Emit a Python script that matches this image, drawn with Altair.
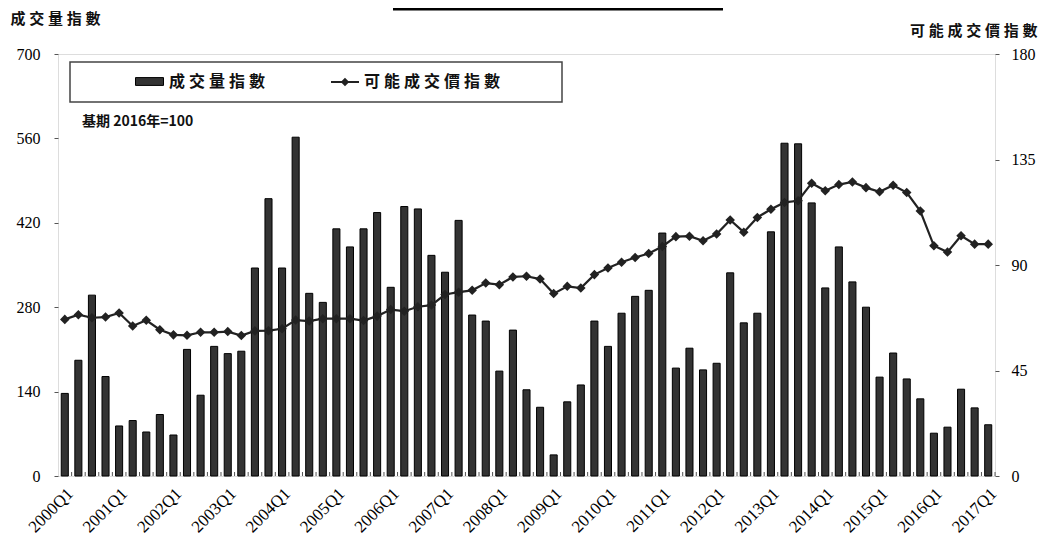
import altair as alt
import pandas as pd

quarters = [f"{y}Q{q}" for y in range(2000, 2018) for q in range(1, 5)][:69]

volume_index = [
    137, 192, 300, 165, 83, 92, 73, 102,
    68, 210, 134, 215, 203, 207, 345, 460,
    345, 562, 303, 288, 410, 380, 410, 437,
    313, 447, 443, 366, 338, 424, 267, 257,
    174, 242, 143, 114, 35, 123, 151, 257,
    215, 270, 298, 308, 403, 179, 212, 176,
    187, 337, 254, 270, 405, 552, 551, 453,
    312, 380, 322, 280, 164, 204, 161, 128,
    71, 81, 144, 113, 85,
]

price_index = [
    66.8, 68.8, 67.5, 67.8, 69.5, 64.0, 66.4, 62.4,
    60.2, 60.0, 61.3, 61.3, 61.6, 59.9, 61.9, 62.0,
    62.8, 66.5, 66.1, 67.1, 67.1, 67.1, 66.3, 68.2,
    71.0, 70.3, 72.2, 72.9, 77.4, 78.4, 79.2, 82.3,
    81.6, 84.9, 85.2, 84.0, 77.8, 80.9, 80.2, 85.9,
    88.7, 91.2, 93.2, 94.9, 97.9, 102.1, 102.3, 100.3,
    103.2, 109.2, 104.0, 110.3, 113.8, 116.7, 117.4, 124.9,
    121.7, 124.3, 125.4, 123.0, 121.2, 124.0, 120.9, 113.0,
    98.2, 95.5, 102.5, 98.9, 98.9,
]

q1_labels = [q for q in quarters if q.endswith("Q1")]
vol_name = "成交量指數"
price_name = "可能成交價指數"
base_text = "基期 2016年=100"

SP = "\u2005"
def spaced(s):
    return SP.join(list(s))

df = pd.DataFrame({
    "quarter": quarters,
    "volume": volume_index,
    "price": price_index,
    "s1": spaced(vol_name),
    "s2": spaced(price_name),
})
one = pd.DataFrame({"k": [0]})

NUM_FONT = "Liberation Serif"
CJK_FONT = "Noto Sans CJK TC"

W, H = 937, 422

xscale = alt.Scale(paddingInner=0.48, paddingOuter=0.24)

x_axis = alt.Axis(
    values=q1_labels, labelAngle=-45, ticks=False, domain=False,
    labelFont=NUM_FONT, labelFontSize=17, labelColor="#000", labelPadding=9,
    title=None, grid=False,
)

bars = alt.Chart(df).mark_bar(stroke="#000", strokeWidth=1).encode(
    x=alt.X("quarter:N", sort=quarters, scale=xscale, axis=x_axis),
    y=alt.Y(
        "volume:Q",
        scale=alt.Scale(domain=[0, 700], nice=False),
        axis=alt.Axis(
            values=[0, 140, 280, 420, 560, 700], orient="left", grid=False,
            domain=False, tickSize=4, tickColor="#555",
            labelFont=NUM_FONT, labelFontSize=16, labelColor="#000", labelPadding=14,
            title=spaced(vol_name), titleAngle=0, titleX=-48, titleY=-36,
            titleAlign="left", titleBaseline="middle",
            titleFont=CJK_FONT, titleFontSize=15, titleFontWeight="bold", titleColor="#111",
        ),
    ),
    fill=alt.Fill(
        "s1:N",
        scale=alt.Scale(range=["#333333"]),
        legend=alt.Legend(
            orient="none", legendX=77, legendY=13, title=None, padding=0,
            symbolType="M-1,-0.28H1V0.28H-1Z", symbolSize=784,
            symbolStrokeColor="#000", symbolStrokeWidth=1,
            labelFont=CJK_FONT, labelFontSize=16, labelFontWeight="bold",
            labelColor="#111", labelOffset=5, labelLimit=300,
        ),
    ),
)

xticks = alt.Chart(df).mark_rule(color="#555", strokeWidth=1, xOffset=3.3).encode(
    x=alt.X("quarter:N", sort=quarters, scale=xscale, bandPosition=1),
    y=alt.value(H),
    y2=alt.value(H - 4),
)

line = alt.Chart(df).mark_line(
    strokeWidth=2.2,
    point=alt.OverlayMarkDef(shape="diamond", size=45, filled=True, color="#222"),
).encode(
    x=alt.X("quarter:N", sort=quarters, scale=xscale),
    y=alt.Y(
        "price:Q",
        scale=alt.Scale(domain=[0, 180], nice=False),
        axis=alt.Axis(
            values=[0, 45, 90, 135, 180], orient="right", grid=False,
            domain=False, tickSize=4, tickColor="#555",
            labelFont=NUM_FONT, labelFontSize=16, labelColor="#000", labelPadding=12,
            title=spaced(price_name), titleAngle=0, titleX=42, titleY=-24,
            titleAlign="right", titleBaseline="middle",
            titleFont=CJK_FONT, titleFontSize=15, titleFontWeight="bold", titleColor="#111",
        ),
    ),
    stroke=alt.Stroke(
        "s2:N",
        scale=alt.Scale(range=["#222222"]),
        legend=alt.Legend(
            orient="none", legendX=272, legendY=13, title=None, padding=0,
            symbolType="M-1,0H1M-0.2,0L0,-0.2L0.2,0L0,0.2Z", symbolSize=784,
            symbolFillColor="#222", symbolStrokeWidth=2,
            labelFont=CJK_FONT, labelFontSize=16, labelFontWeight="bold",
            labelColor="#111", labelOffset=4, labelLimit=300,
        ),
    ),
)

legend_box = alt.Chart(one).mark_rect(
    fill="white", stroke="#444", strokeWidth=1.5
).encode(
    x=alt.value(12), x2=alt.value(504), y=alt.value(8), y2=alt.value(48)
)

base_note = alt.Chart(one).mark_text(
    text=base_text, align="left", baseline="middle",
    font=CJK_FONT, fontSize=14, fontWeight="bold", color="#111",
).encode(x=alt.value(24), y=alt.value(68))

top_bar = alt.Chart(one).mark_rule(color="#000", strokeWidth=3).encode(
    x=alt.value(335), x2=alt.value(665), y=alt.value(-45)
)

chart = alt.layer(
    legend_box, base_note, top_bar, bars, xticks, line
).resolve_scale(
    y="independent", fill="independent", stroke="independent"
).properties(
    width=W, height=H,
    autosize=alt.AutoSizeParams(type="none"),
    padding={"left": 50, "top": 46, "right": 43, "bottom": 61},
).configure_view(
    stroke="#555", strokeWidth=1.5
).configure(background="white")

chart.save("out.html", embed_options={"renderer": "svg", "actions": False})
